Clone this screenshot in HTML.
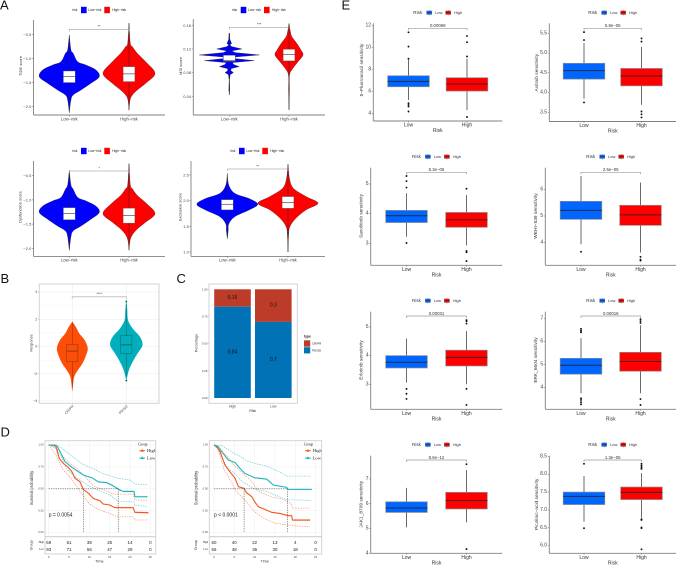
<!DOCTYPE html>
<html lang="en">
<head>
<meta charset="utf-8">
<title>Risk group comparison figure</title>
<style>
html,body{margin:0;padding:0;background:#fff;}
body{width:676px;height:565px;overflow:hidden;}
svg{display:block;font-family:"Liberation Sans",sans-serif;}
</style>
</head>
<body>
<svg id="figure" xmlns="http://www.w3.org/2000/svg" width="676" height="565" viewBox="0 0 676 565">
<rect x="0" y="0" width="676" height="565" fill="#ffffff"/>
<defs><clipPath id="km-clip-one"><rect x="44" y="440" width="112" height="98"/></clipPath></defs>
</svg>
<script>
/* ---------- Panel A data ---------- */
const tideTicks=[-0.5,-1,-1.5,-2];
const tideLowGrid=[-0.515,-0.825,-0.895,-1.07,-1.135,-1.24,-1.38,-1.515,-1.654,-1.757,-1.86,-2.124];
const tideLowDensity=[0,0.055,0.13,0.28,0.55,0.89,1,0.72,0.39,0.13,0.055,0];
const tideLowBox=[-1.5,-1.375,-1.26];
const tideHighGrid=[-0.27,-0.686,-0.757,-0.895,-1.07,-1.31,-1.515,-1.654,-1.757,-1.86,-2.07];
const tideHighDensity=[0,0.05,0.13,0.32,0.64,1,0.64,0.32,0.13,0.04,0];
const tideHighBox=[-1.48,-1.32,-1.17];

const msiTicks=[0.16,0.12,0.08,0.04];
const msiLowGrid=[0.1465,0.1363,0.1313,0.1296,0.1268,0.124,0.12,0.1167,0.1138,0.1099,0.1065,0.1037,0.1003,0.097,0.0936,0.0902,0.0868,0.0834,0.08,0.0767,0.0677,0.0508,0.0423];
const msiLowDensity=[0.01,0.02,0.06,0.08,0.02,0.08,0.42,0.08,0.2,1,0.2,0.2,0.83,0.1,0.15,0.33,0.06,0.05,0.14,0.03,0.006,0.015,0];
const msiLowBox=[0.0992,0.1003,0.1093];
const msiHighGrid=[0.163,0.149,0.1409,0.1296,0.1183,0.1099,0.0986,0.0874,0.0761,0.0508,0.034,0.017];
const msiHighDensity=[0,0.1,0.2,0.55,0.85,1,0.65,0.28,0.04,0.03,0.015,0];
const msiHighBox=[0.0998,0.111,0.1195];

const dysTicks=[-0.5,-1,-1.5,-2];
const dysLowGrid=[-0.39,-0.69,-0.78,-0.95,-1.02,-1.13,-1.26,-1.4,-1.54,-1.64,-1.76,-2.04];
const dysLowDensity=[0,0.055,0.13,0.28,0.55,0.89,1,0.72,0.39,0.13,0.055,0];
const dysLowBox=[-1.41,-1.285,-1.16];
const dysHighGrid=[-0.25,-0.69,-0.77,-0.91,-1.06,-1.28,-1.46,-1.6,-1.72,-1.84,-2.04];
const dysHighDensity=[0,0.05,0.13,0.32,0.64,1,0.64,0.32,0.13,0.04,0];
const dysHighBox=[-1.48,-1.32,-1.17];

const excTicks=[2.5,2,1.5,1];
const excLowGrid=[2.53,2.3,2.14,2.04,1.93,1.82,1.69,1.55,1.42,1.26];
const excLowDensity=[0,0.05,0.25,0.72,1,0.72,0.25,0.05,0.03,0];
const excLowBox=[1.82,1.93,2.02];
const excHighGrid=[2.71,2.43,2.24,2.08,1.95,1.82,1.65,1.49,1.33,1];
const excHighDensity=[0,0.05,0.18,0.6,1,0.6,0.25,0.06,0.02,0];
const excHighBox=[1.85,1.965,2.08];
const excHighOutliers=[2.62,2.58,2.55,2.5,1.42,1.38,1.3];

/* ---------- Panel B data ---------- */
const respTicks=[4,2,0,-2,-4];
const respGroups=["CR/PR","PD/SD"];
const respCrGrid=[1.81,1.44,0.95,0.46,-0.15,-0.76,-1.25,-1.74,-2.2,-2.7,-3.25];
const respCrDensity=[0,0.22,0.45,0.8,1,0.85,0.65,0.35,0.12,0.05,0];
const respCrBox=[-1.1,-0.34,0.15];
const respPdGrid=[3.4,2.66,1.93,1.3,0.7,0.1,-0.5,-1.1,-1.74,-2.47];
const respPdDensity=[0,0.05,0.1,0.4,0.85,1,0.7,0.4,0.15,0];
const respPdBox=[-0.5,0.12,0.8];
const respPdOutliers=[3.3,-2.5];

/* ---------- Panel C data ---------- */
const pctTicks=[1,0.75,0.5,0.25,0];
const pctCategories=["High","Low"];
const pctCrPr=[0.16,0.3];
const pctPdSd=[0.84,0.7];

/* ---------- Panel D data ---------- */
const kmTicksY=[1,0.75,0.5,0.25,0];
const kmTicksX=[0,5,10,15,20,25];

const km1HighTime=[0,1.6,2,2.6,3.6,4.8,5.7,6.5,7.7,8.5,9.8,11,12.6,13.4,15,16.3,20.8,21.2,24.5];
const km1HighSurv=[1,1,0.943,0.848,0.79,0.745,0.696,0.62,0.58,0.494,0.449,0.39,0.365,0.327,0.316,0.285,0.285,0.232,0.228];
const km1LowTime=[0,2,2.8,4,5.7,7.3,8.5,10.6,12.2,14.3,15.5,17.5,18.4,21,21.2,24.3];
const km1LowSurv=[1,0.99,0.924,0.81,0.745,0.696,0.658,0.627,0.58,0.57,0.544,0.487,0.47,0.47,0.41,0.41];
const km1HighUpperTime=[0,2,3.5,5,7,9,11,13,16,20.8,21.2,24.5];
const km1HighUpper=[1,0.97,0.87,0.8,0.73,0.64,0.53,0.5,0.44,0.44,0.373,0.37];
const km1HighLowerTime=[0,2,3.5,5.5,7,8.5,10,12,15,17,20.8,21.2,24.5];
const km1HighLower=[1,0.87,0.72,0.62,0.52,0.42,0.33,0.27,0.22,0.18,0.18,0.145,0.145];
const km1LowUpperTime=[0,2,3,5,8,11,13,17,20,21.2,24.3];
const km1LowUpper=[1,1,0.97,0.9,0.79,0.73,0.68,0.62,0.6,0.555,0.55];
const km1LowLowerTime=[0,2,3,4.5,7,10,13,15,17,21,21.2,24.3];
const km1LowLower=[1,0.95,0.87,0.72,0.62,0.53,0.47,0.43,0.36,0.35,0.31,0.3];
const km1Medians=[8.6,17.1];
const km1HighCensor=[17,18,19,20,21.6,22,22.5,23,23.5,24,24.5];
const km1LowCensor=[17.6,18.6,19,19.5,20,20.5,21.5,22,22.5,23,23.5,24];
const km1HighRisk=[69,61,38,25,14,0];
const km1LowRisk=[93,71,56,47,29,0];

const km2HighTime=[0,0.65,1.5,2.7,3.9,5.2,6,7.4,8,9.3,10,10.9,12.5,14.2,16.2,18.3,19.1,19.3,23.6];
const km2HighSurv=[1,0.98,0.924,0.77,0.696,0.62,0.525,0.506,0.456,0.41,0.354,0.297,0.266,0.232,0.22,0.194,0.194,0.144,0.144];
const km2LowTime=[0,1.07,1.9,3.5,5.2,6.4,7.6,10,13,14.6,17.9,18.1,24];
const km2LowSurv=[1,0.98,0.924,0.83,0.8,0.734,0.677,0.627,0.61,0.544,0.517,0.494,0.494];
const km2HighUpperTime=[0,1.5,3,5,7,9,11,14,17,19,19.3,23.6];
const km2HighUpper=[1,0.96,0.88,0.77,0.68,0.6,0.47,0.41,0.38,0.33,0.28,0.28];
const km2HighLowerTime=[0,1,2.5,4,5.5,7.5,10,12,15,19,23.6];
const km2HighLower=[1,0.95,0.72,0.6,0.47,0.38,0.24,0.17,0.11,0.08,0.07];
const km2LowUpperTime=[0,2,3.5,5,6.5,8,10,13,15,17,18,24];
const km2LowUpper=[1,0.99,0.95,0.9,0.87,0.82,0.79,0.76,0.72,0.67,0.645,0.645];
const km2LowLowerTime=[0,1,2,3.5,5,7,10,13,15,18,24];
const km2LowLower=[1,0.96,0.85,0.73,0.68,0.58,0.5,0.47,0.43,0.375,0.37];
const km2Medians=[7.4,18.1];
const km2HighCensor=[20,20.6,21.2,21.8,22.4,23,23.6];
const km2LowCensor=[18.4,18.9,19.4,19.9,20.4,20.9,21.4,21.9,22.4,22.9,23.4,24];
const km2HighRisk=[60,40,22,13,4,0];
const km2LowRisk=[56,48,36,30,18,0];

/* ---------- Panel E data ---------- */
const fuTicks=[12,10,8,6,4];
const fuLowBox=[6.45,6.94,7.45];
const fuLowWhisker=[5.25,8.9];
const fuLowOutliers=[11.4,10.1,9,4.95,4.8,4.65,4.2];
const fuHighBox=[6.06,6.7,7.27];
const fuHighWhisker=[4.33,9];
const fuHighOutliers=[11.06,10.5,9.2,3.7];

const axiTicks=[5.5,5,4.5,4,3.5];
const axiLowBox=[4.34,4.555,4.74];
const axiLowWhisker=[3.85,5.25];
const axiLowOutliers=[5.53,5.33,3.75];
const axiHighBox=[4.17,4.42,4.61];
const axiHighWhisker=[3.69,5.16];
const axiHighOutliers=[5.37,5.29,3.52,3.45,3.37];

const savTicks=[5,4,3];
const savLowBox=[3.7,3.93,4.11];
const savLowWhisker=[3.22,4.69];
const savLowOutliers=[5.27,5.1,4.88,3.01];
const savHighBox=[3.54,3.79,4.04];
const savHighWhisker=[2.93,4.63];
const savHighOutliers=[4.84,2.74,2.7,2.4];

const wehiTicks=[6,5,4];
const wehiLowBox=[4.875,5.21,5.55];
const wehiLowWhisker=[3.94,6.5];
const wehiLowOutliers=[3.66];
const wehiHighBox=[4.65,5.04,5.4];
const wehiHighWhisker=[3.63,6.25];
const wehiHighOutliers=[3.47,3.37,3.33];

const erlTicks=[5,4,3];
const erlLowBox=[3.57,3.77,4];
const erlLowWhisker=[3.06,4.6];
const erlLowOutliers=[2.84,2.67,2.49];
const erlHighBox=[3.64,3.94,4.19];
const erlHighWhisker=[3,4.86];
const erlHighOutliers=[5.24,5.2,5.12,2.84,2.28];

const erkTicks=[7,6,5,4];
const erkLowBox=[4.57,4.96,5.26];
const erkLowWhisker=[3.74,6.13];
const erkLowOutliers=[6.54,6.46,6.39,3.52,3.45,3.35,3.26];
const erkHighBox=[4.7,5.12,5.52];
const erkHighWhisker=[3.74,6.7];
const erkHighOutliers=[6.96,6.88,6.8,3.49,3.23];

const jakTicks=[7,6,5,4];
const jakLowBox=[5.65,5.83,6.08];
const jakLowWhisker=[5.05,6.64];
const jakLowOutliers=[];
const jakHighBox=[5.79,6.13,6.46];
const jakHighWhisker=[5.25,7.36];
const jakHighOutliers=[7.6,4.17];

const picTicks=[8.5,8,7.5,7,6.5,6];
const picLowBox=[7.15,7.38,7.5];
const picLowWhisker=[6.67,7.95];
const picLowOutliers=[8.29,6.49];
const picHighBox=[7.29,7.49,7.64];
const picHighWhisker=[6.78,8.03];
const picHighOutliers=[8.29,8.24,8.19,8.15,6.74,6.72,6.51,6.49,5.9];

/* ---------- Helpers ---------- */
const NS='http://www.w3.org/2000/svg';
const root=document.getElementById('figure');
function mk(parent,tag,attrs,name){
  const el=document.createElementNS(NS,tag);
  for(const k in attrs){el.setAttribute(k,attrs[k]);}
  
  
  parent.appendChild(el);
  return el;
}
function group(parent,name){return mk(parent,'g',{},name);}
function txt(parent,str,x,y,size,name,o){
  o=o||{};
  const a={x:x,y:y,'font-size':size,'text-anchor':o.anchor||'middle','dominant-baseline':'central',fill:o.fill||'#222'};
  if(o.family){a['font-family']=o.family;}
  if(o.weight){a['font-weight']=o.weight;}
  if(o.rotate){a.transform='rotate('+o.rotate+' '+x+' '+y+')';}
  const el=mk(parent,'text',a,name);
  el.textContent=str;
  return el;
}
function line(parent,x1,y1,x2,y2,stroke,w,name,dash){
  const a={x1:x1,y1:y1,x2:x2,y2:y2,stroke:stroke,'stroke-width':w};
  if(dash){a['stroke-dasharray']=dash;}
  return mk(parent,'line',a,name);
}
function linear(d,r){const m=(r[1]-r[0])/(d[1]-d[0]);return function(v){return r[0]+(v-d[0])*m;};}
function fmt(v,dec){const s=Number(v).toFixed(dec);return s.replace('-','\u2212');}
function smoothPath(p){
  let s='M'+p[0][0].toFixed(2)+' '+p[0][1].toFixed(2);
  for(let i=0;i<p.length-1;i++){
    const a=p[Math.max(i-1,0)],b=p[i],c=p[i+1],d=p[Math.min(i+2,p.length-1)];
    s+=' C'+(b[0]+(c[0]-a[0])/6).toFixed(2)+' '+(b[1]+(c[1]-a[1])/6).toFixed(2)+' '+(c[0]-(d[0]-b[0])/6).toFixed(2)+' '+(c[1]-(d[1]-b[1])/6).toFixed(2)+' '+c[0].toFixed(2)+' '+c[1].toFixed(2);
  }
  return s;
}
function straightPath(p){return 'M'+p.map(function(q){return q[0].toFixed(2)+' '+q[1].toFixed(2);}).join(' L');}
function violin(parent,grid,density,cx,hw,sy,fill,stroke,smooth,name){
  const left=grid.map(function(v,i){return [cx-density[i]*hw,sy(v)];});
  const right=grid.map(function(v,i){return [cx+density[i]*hw,sy(v)];});
  const build=smooth?smoothPath:straightPath;
  const d=build(left)+' L'+build(right.reverse()).slice(1)+' Z';
  return mk(parent,'path',{d:d,fill:fill,stroke:stroke,'stroke-width':0.35},name);
}
function bracket(parent,x1,x2,y,label,stroke,w,size,name){
  const g=group(parent,name);
  mk(g,'path',{d:'M'+x1+' '+(y+2)+' V'+y+' H'+x2+' V'+(y+2),fill:'none',stroke:stroke,'stroke-width':w},'significance-bracket');
  txt(g,label,(x1+x2)/2,y-2.6,size,'significance-label',{fill:'#333'});
}
function classicAxes(g,c,sy,ticks,dec,tickSize){
  line(g,c.axisX,c.top,c.axisX,c.bottom,'#808080',0.9,'y-axis-line');
  line(g,c.axisX,c.bottom,c.right,c.bottom,'#808080',0.9,'x-axis-line');
  ticks.forEach(function(t){
    line(g,c.axisX-1.5,sy(t),c.axisX,sy(t),'#666',0.5,'y-tick');
    txt(g,fmt(t,dec),c.axisX-2.2,sy(t),tickSize,'y-tick-label',{anchor:'end',fill:'#444'});
  });
}

/* ---------- Violin panels (A) ---------- */
function riskLegend(parent,x,y){
  const g=group(parent,'risk-legend');
  txt(g,'risk',x,y,3.3,'legend-title',{anchor:'start'});
  mk(g,'rect',{x:x+8.7,y:y-3.2,width:5.6,height:6.4,fill:'#0000ff'},'legend-swatch-low-risk');
  txt(g,'Low\u2212risk',x+16,y,3.3,'legend-label-low-risk',{anchor:'start'});
  mk(g,'rect',{x:x+32,y:y-3.2,width:5.6,height:6.4,fill:'#ff0000'},'legend-swatch-high-risk');
  txt(g,'High\u2212risk',x+40,y,3.3,'legend-label-high-risk',{anchor:'start'});
}
function violinPanel(c){
  const g=group(root,c.name);
  const sy=linear(c.domain,c.range);
  riskLegend(g,c.legendX,c.legendY);
  classicAxes(g,c,sy,c.ticks,c.dec,4);
  txt(g,c.title,c.titleX,c.titleY,4,'y-axis-title',{rotate:-90,fill:'#333'});
  c.series.forEach(function(s,i){
    const cx=c.cx[i];
    const sg=group(g,'violin-'+s.key);
    violin(sg,s.grid,s.density,cx,s.hw,sy,s.fill,'#222',!c.spiky||i===1,'violin-body');
    line(sg,cx,sy(s.grid[0]),cx,sy(s.grid[s.grid.length-1]),'#222',0.45,'violin-whisker');
    (s.outliers||[]).forEach(function(v){mk(sg,'circle',{cx:cx,cy:sy(v),r:0.6,fill:'#222'},'outlier-point');});
    const bh=5.9;
    mk(sg,'rect',{x:cx-bh,y:sy(s.box[2]),width:bh*2,height:sy(s.box[0])-sy(s.box[2]),fill:'#fff',stroke:'#555','stroke-width':0.4},'box');
    line(sg,cx-bh,sy(s.box[1]),cx+bh,sy(s.box[1]),'#333',0.6,'box-median');
    txt(sg,s.label,cx,c.bottom+3.8,4.2,'x-tick-label',{fill:'#444'});
    line(sg,cx,c.bottom,cx,c.bottom+1.5,'#666',0.5,'x-tick');
  });
  bracket(g,c.cx[0],c.cx[1],c.bracketY,c.stars,'#8a8a8a',0.5,3.6,'comparison-bracket');
}
violinPanel({name:'tide-score-violin',domain:[-0.5,-2],range:[34.3,106.7],axisX:33.5,top:20,bottom:115,right:165,cx:[69.3,129],ticks:tideTicks,dec:1,title:'TIDE score',titleX:20.6,titleY:66,legendX:72.3,legendY:10,bracketY:29.3,stars:'**',
 series:[{key:'low-risk',label:'Low\u2212risk',grid:tideLowGrid,density:tideLowDensity,box:tideLowBox,hw:30,fill:'#0000ff'},{key:'high-risk',label:'High\u2212risk',grid:tideHighGrid,density:tideHighDensity,box:tideHighBox,hw:26,fill:'#ff0000'}]});
violinPanel({name:'msi-score-violin',domain:[0.16,0.04],range:[25.3,96.3],axisX:193.3,top:19,bottom:115,right:325,cx:[229.3,289],ticks:msiTicks,dec:2,title:'MSI score',titleX:180.5,titleY:66,legendX:232,legendY:10,bracketY:27.3,stars:'***',spiky:true,
 series:[{key:'low-risk',label:'Low\u2212risk',grid:msiLowGrid,density:msiLowDensity,box:msiLowBox,hw:30,fill:'#0000ff'},{key:'high-risk',label:'High\u2212risk',grid:msiHighGrid,density:msiHighDensity,box:msiHighBox,hw:14,fill:'#ff0000'}]});
violinPanel({name:'dysfunction-score-violin',domain:[-0.5,-2],range:[175.7,248.3],axisX:33.5,top:161,bottom:256.4,right:165,cx:[69.3,129],ticks:dysTicks,dec:1,title:'Dysfunction score',titleX:20,titleY:207,legendX:72.3,legendY:151,bracketY:171,stars:'*',
 series:[{key:'low-risk',label:'Low\u2212risk',grid:dysLowGrid,density:dysLowDensity,box:dysLowBox,hw:30,fill:'#0000ff'},{key:'high-risk',label:'High\u2212risk',grid:dysHighGrid,density:dysHighDensity,box:dysHighBox,hw:26,fill:'#ff0000'}]});
violinPanel({name:'exclusion-score-violin',domain:[2.5,1],range:[175,252],axisX:191,top:161,bottom:256.4,right:325,cx:[227.3,288],ticks:excTicks,dec:1,title:'Exclusion score',titleX:180,titleY:207,legendX:230.3,legendY:151,bracketY:169,stars:'**',
 series:[{key:'low-risk',label:'Low\u2212risk',grid:excLowGrid,density:excLowDensity,box:excLowBox,hw:30.5,fill:'#0000ff'},{key:'high-risk',label:'High\u2212risk',grid:excHighGrid,density:excHighDensity,box:excHighBox,hw:30,fill:'#ff0000',outliers:excHighOutliers}]});

/* ---------- Panel B ---------- */
(function(){
  const g=group(root,'response-violin');
  const sy=linear([4,-4],[292,401]);
  const cx=[72.3,126.3];
  const L=39.3,R=159,T=284,B=403.3;
  [3,1,-1,-3].forEach(function(t){line(g,L,sy(t),R,sy(t),'#f3f3f3',0.4,'minor-gridline');});
  respTicks.forEach(function(t){
    line(g,L,sy(t),R,sy(t),'#ebebeb',0.5,'major-gridline');
    txt(g,fmt(t,0),37.3,sy(t),3.6,'y-tick-label',{anchor:'end',fill:'#444'});
    line(g,38,sy(t),L,sy(t),'#888',0.4,'y-tick');
  });
  cx.forEach(function(x){line(g,x,T,x,B,'#ebebeb',0.5,'vertical-gridline');});
  const sets=[{k:'cr-pr',grid:respCrGrid,dens:respCrDensity,box:respCrBox,fill:'#fc4e07',w:[-3,1.8],dark:'#7a3a1c',out:[]},
              {k:'pd-sd',grid:respPdGrid,dens:respPdDensity,box:respPdBox,fill:'#00afbb',w:[-2.2,3.1],dark:'#0d5f66',out:respPdOutliers}];
  sets.forEach(function(s,i){
    const sg=group(g,'violin-'+s.k);
    violin(sg,s.grid,s.dens,cx[i],s.k==='cr-pr'?15.3:16,sy,s.fill,s.fill,true,'violin-body');
    line(sg,cx[i],sy(s.w[1]),cx[i],sy(s.box[2]),s.dark,0.5,'upper-whisker');
    line(sg,cx[i],sy(s.box[0]),cx[i],sy(s.w[0]),s.dark,0.5,'lower-whisker');
    mk(sg,'rect',{x:cx[i]-5.6,y:sy(s.box[2]),width:11.2,height:sy(s.box[0])-sy(s.box[2]),fill:'none',stroke:s.dark,'stroke-width':0.5},'box');
    line(sg,cx[i]-5.6,sy(s.box[1]),cx[i]+5.6,sy(s.box[1]),s.dark,0.8,'box-median');
    s.out.forEach(function(v){mk(sg,'circle',{cx:cx[i],cy:sy(v),r:0.9,fill:s.dark},'outlier-point');});
    txt(sg,respGroups[i],cx[i]+1,406,3.6,'x-tick-label',{anchor:'end',rotate:-45,fill:'#444'});
    line(sg,cx[i],B,cx[i],B+1.2,'#888',0.4,'x-tick');
  });
  mk(g,'rect',{x:L,y:T,width:R-L,height:B-T,fill:'none',stroke:'#cfcfcf','stroke-width':0.9},'panel-border');
  mk(g,'path',{d:'M'+cx[0]+' 298.5 V296.7 H'+cx[1]+' V298.5',fill:'none',stroke:'#c4c4c4','stroke-width':1},'significance-bracket');
  txt(g,'****',(cx[0]+cx[1])/2,294,3.6,'significance-label',{fill:'#444'});
  txt(g,'Response',31,343,3.9,'y-axis-title',{rotate:-90,fill:'#333'});
})();

/* ---------- Panel C ---------- */
(function(){
  const g=group(root,'response-percentage-stacked-bars');
  const sy=linear([1,0],[289.3,398]);
  const L=209,R=297.3,T=284,B=403.3;
  const cx=[232.5,273.3];
  const hw=18.3;
  pctCategories.forEach(function(cat,i){
    const sg=group(g,'stacked-bar-'+cat.toLowerCase());
    const split=pctPdSd[i];
    mk(sg,'rect',{x:cx[i]-hw,y:sy(split+pctCrPr[i]),width:hw*2,height:sy(split)-sy(split+pctCrPr[i]),fill:'#bc3c29'},'bar-segment-cr-pr');
    mk(sg,'rect',{x:cx[i]-hw,y:sy(split),width:hw*2,height:sy(0)-sy(split),fill:'#0072b5'},'bar-segment-pd-sd');
    txt(sg,String(pctCrPr[i]),cx[i],sy(split+pctCrPr[i]/2),5,'value-label-cr-pr',{fill:'#111'});
    txt(sg,String(pctPdSd[i]),cx[i],sy(split/2),5,'value-label-pd-sd',{fill:'#111'});
    txt(sg,cat,cx[i],406.5,3.4,'x-tick-label',{fill:'#444'});
    line(sg,cx[i],B,cx[i],B+1,'#888',0.4,'x-tick');
  });
  pctTicks.forEach(function(t){
    txt(g,t.toFixed(2),207.5,sy(t),2.9,'y-tick-label',{anchor:'end',fill:'#444'});
    line(g,208,sy(t),L,sy(t),'#888',0.4,'y-tick');
  });
  mk(g,'rect',{x:L,y:T,width:R-L,height:B-T,fill:'none',stroke:'#cfcfcf','stroke-width':0.9},'panel-border');
  txt(g,'Percentage',196.7,343,3.6,'y-axis-title',{rotate:-90,fill:'#333'});
  txt(g,'Risk',252.7,411,3.6,'x-axis-title',{fill:'#333'});
  const lg=group(g,'type-legend');
  txt(lg,'type',304,336.4,3.4,'legend-title',{anchor:'start',weight:'bold'});
  mk(lg,'rect',{x:304,y:340.3,width:6.2,height:6.4,fill:'#bc3c29'},'legend-swatch-cr-pr');
  mk(lg,'rect',{x:304,y:347.2,width:6.2,height:6.2,fill:'#0072b5'},'legend-swatch-pd-sd');
  txt(lg,'CR/PR',312,343.7,3,'legend-label-cr-pr',{anchor:'start'});
  txt(lg,'PD/SD',312,350.3,3,'legend-label-pd-sd',{anchor:'start'});
})();

/* ---------- Panel D ---------- */
function curvePath(g,sx,sy,times,vals,stroke,w,dash,name){
  const a={d:straightPath(times.map(function(t,i){return [sx(t),sy(vals[i])];})),fill:'none',stroke:stroke,'stroke-width':w};
  if(dash){a['stroke-dasharray']=dash;}
  return mk(g,'path',a,name);
}
function survivalAt(times,vals,t){
  for(let i=times.length-1;i>=0;i--){if(t>=times[i]){
    if(i===times.length-1){return vals[i];}
    return vals[i]+(vals[i+1]-vals[i])*(t-times[i])/(times[i+1]-times[i]);
  }}
  return vals[0];
}
function kmPanel(c){
  const g=group(root,c.name);
  const sx=linear([0,25],[c.x0,c.x0+101.6]);
  const sy=linear([1,0],[445,532.7]);
  const L=c.L,R=c.R,T=440.7,B=536.7,TB=554;
  const HIGH='#f4541c',LOW='#1cb3bd';
  const plot=group(g,'survival-plot');
  if(c.clip){plot.setAttribute('clip-path','url(#km-clip-one)');}
  kmTicksY.forEach(function(t){line(plot,L,sy(t),R,sy(t),'#eeeeee',0.5,'horizontal-gridline');});
  kmTicksX.forEach(function(t){if(sx(t)<R){line(plot,sx(t),T,sx(t),B,'#eeeeee',0.5,'vertical-gridline');}});
  curvePath(plot,sx,sy,c.hiUT,c.hiU,HIGH,0.55,'1.5 1','high-upper-confidence-line').setAttribute('opacity',0.75);
  curvePath(plot,sx,sy,c.hiLT,c.hiL,HIGH,0.55,'1.5 1','high-lower-confidence-line').setAttribute('opacity',0.75);
  curvePath(plot,sx,sy,c.loUT,c.loU,LOW,0.55,'1.5 1','low-upper-confidence-line').setAttribute('opacity',0.8);
  curvePath(plot,sx,sy,c.loLT,c.loL,LOW,0.55,'1.5 1','low-lower-confidence-line').setAttribute('opacity',0.8);
  curvePath(plot,sx,sy,c.hiT,c.hiS,HIGH,1.1,null,'high-survival-curve');
  curvePath(plot,sx,sy,c.loT,c.loS,LOW,1.1,null,'low-survival-curve');
  c.hiC.forEach(function(t){const y=sy(survivalAt(c.hiT,c.hiS,t));line(plot,sx(t),y-0.9,sx(t),y+0.9,HIGH,0.4,'high-censor-mark');});
  c.loC.forEach(function(t){const y=sy(survivalAt(c.loT,c.loS,t));line(plot,sx(t),y-0.9,sx(t),y+0.9,LOW,0.4,'low-censor-mark');});
  line(plot,sx(0),sy(0.5),sx(c.med[1]),sy(0.5),'#333',0.5,'median-reference-line','1.3 1');
  c.med.forEach(function(t){line(plot,sx(t),sy(0.5),sx(t),sy(0),'#333',0.5,'median-drop-line','1.3 1');});
  txt(plot,c.pText,sx(0),515.3,5,'p-value-label',{anchor:'start',fill:'#222'});
  const lg=group(plot,'group-legend');
  const serif='"Liberation Serif",serif';
  txt(lg,'Group',c.legendX,444.3,3.6,'legend-title',{anchor:'start',family:serif});
  line(lg,c.legendX+1,450.7,c.legendX+6.8,450.7,HIGH,0.9,'legend-key-high');
  mk(lg,'path',{d:'M'+(c.legendX+3.9)+' 448.9 l1.6 2.8 h-3.2 Z',fill:HIGH},'legend-marker-high');
  txt(lg,'High',c.legendX+8.6,450.7,4.6,'legend-label-high',{anchor:'start',family:serif});
  line(lg,c.legendX+1,458,c.legendX+6.8,458,LOW,0.9,'legend-key-low');
  mk(lg,'path',{d:'M'+(c.legendX+3.9)+' 456.2 l1.6 2.8 h-3.2 Z',fill:LOW},'legend-marker-low');
  txt(lg,'Low',c.legendX+8.6,458,4.6,'legend-label-low',{anchor:'start',family:serif});
  mk(g,'rect',{x:L,y:T,width:R-L,height:B-T,fill:'none',stroke:'#cfcfcf','stroke-width':0.9},'survival-panel-border');
  kmTicksY.forEach(function(t){
    txt(g,t.toFixed(2),L-1.4,sy(t),2.7,'y-tick-label',{anchor:'end',fill:'#444'});
  });
  txt(g,'Survival probability',c.titleX,488,4.1,'y-axis-title',{rotate:-90,fill:'#333'});
  const tb=group(g,'risk-table');
  mk(tb,'rect',{x:L,y:B,width:R-L,height:TB-B,fill:'none',stroke:'#cfcfcf','stroke-width':0.9},'risk-table-border');
  kmTicksX.forEach(function(t,i){
    txt(tb,String(c.hiR[i]),sx(t),542.7,4.4,'at-risk-high',{fill:'#222'});
    txt(tb,String(c.loR[i]),sx(t),549.3,4.4,'at-risk-low',{fill:'#222'});
    txt(tb,String(t),sx(t),557,2.8,'x-tick-label',{fill:'#444'});
  });
  txt(tb,'High',L-1.2,542.7,2.6,'risk-row-label-high',{anchor:'end',family:serif});
  txt(tb,'Low',L-1.2,549.3,2.6,'risk-row-label-low',{anchor:'end',family:serif});
  txt(tb,'Group',c.titleX,545.3,3.6,'risk-table-y-title',{rotate:-90,fill:'#333'});
  txt(tb,'Time',(c.x0+c.x0+101.6)/2,561.7,3.8,'x-axis-title',{fill:'#333'});
}
kmPanel({name:'survival-plot-one',x0:48.7,L:45,R:155.7,titleX:31.7,legendX:138.3,clip:true,pText:'p = 0.0054',
 hiT:km1HighTime,hiS:km1HighSurv,loT:km1LowTime,loS:km1LowSurv,hiUT:km1HighUpperTime,hiU:km1HighUpper,hiLT:km1HighLowerTime,hiL:km1HighLower,loUT:km1LowUpperTime,loU:km1LowUpper,loLT:km1LowLowerTime,loL:km1LowLower,med:km1Medians,hiC:km1HighCensor,loC:km1LowCensor,hiR:km1HighRisk,loR:km1LowRisk});
kmPanel({name:'survival-plot-two',x0:214,L:209.3,R:321.7,titleX:196,legendX:304,pText:'p < 0.0001',
 hiT:km2HighTime,hiS:km2HighSurv,loT:km2LowTime,loS:km2LowSurv,hiUT:km2HighUpperTime,hiU:km2HighUpper,hiLT:km2HighLowerTime,hiL:km2HighLower,loUT:km2LowUpperTime,loU:km2LowUpper,loLT:km2LowLowerTime,loL:km2LowLower,med:km2Medians,hiC:km2HighCensor,loC:km2LowCensor,hiR:km2HighRisk,loR:km2LowRisk});

/* ---------- Panel E ---------- */
const BOX_FILL=['#0066ff','#ff0000'];
const BOX_GROUPS=['Low','High'];
function boxLegend(parent,x,y){
  const g=group(parent,'risk-legend');
  txt(g,'Risk',x,y,4.6,'legend-title',{anchor:'start',fill:'#333'});
  [0,1].forEach(function(i){
    const sx=x+(i===0?13.3:32.3);
    const key=group(g,'legend-key-'+BOX_GROUPS[i].toLowerCase());
    line(key,sx+2.6,y-2.8,sx+2.6,y+2.8,'#666',0.4,'legend-key-whisker');
    mk(key,'rect',{x:sx,y:y-1.8,width:5.2,height:3.6,fill:BOX_FILL[i],stroke:'#777','stroke-width':0.4},'legend-key-box');
    line(key,sx,y,sx+5.2,y,'#222',0.5,'legend-key-median');
    txt(g,BOX_GROUPS[i],x+(i===0?21.7:40.7),y,4,'legend-label-'+BOX_GROUPS[i].toLowerCase(),{anchor:'start',fill:'#333'});
  });
}
function boxPanel(c){
  const g=group(root,c.name);
  const sy=linear(c.domain,c.range);
  boxLegend(g,c.legendX,c.legendY);
  classicAxes(g,c,sy,c.ticks,c.dec,5);
  txt(g,c.title,c.titleX,c.titleY,4.8,'y-axis-title',{rotate:-90,fill:'#333'});
  c.series.forEach(function(s,i){
    const cx=c.cx[i];
    const sg=group(g,'boxplot-'+BOX_GROUPS[i].toLowerCase());
    line(sg,cx,sy(s.whisker[1]),cx,sy(s.whisker[0]),'#6a6a6a',1,'whisker');
    mk(sg,'rect',{x:cx-20.8,y:sy(s.box[2]),width:41.6,height:sy(s.box[0])-sy(s.box[2]),fill:BOX_FILL[i],stroke:'#8c8c8c','stroke-width':0.7},'box');
    line(sg,cx-20.8,sy(s.box[1]),cx+20.8,sy(s.box[1]),'#222',1,'box-median').setAttribute('opacity',0.85);
    s.outliers.forEach(function(v){mk(sg,'circle',{cx:cx,cy:sy(v),r:0.95,fill:'#111'},'outlier-point');});
    line(sg,cx,c.bottom,cx,c.bottom+1.4,'#666',0.5,'x-tick');
    txt(sg,BOX_GROUPS[i],cx,c.bottom+4.6,5,'x-tick-label',{fill:'#333'});
  });
  txt(g,'Risk',(c.cx[0]+c.cx[1])/2,c.bottom+10.2,5,'x-axis-title',{fill:'#333'});
  bracket(g,c.cx[0],c.cx[1],c.bracketY,c.pLabel,'#9a9a9a',0.7,4.3,'comparison-bracket');
}
boxPanel({name:'fluorouracil-boxplot',domain:[12,4],range:[25.7,113.7],axisX:373.3,top:23.3,bottom:121,right:502.3,cx:[408.5,467],ticks:fuTicks,dec:0,title:'5\u2212Fluorouracil sensitivity',titleX:362.7,titleY:70,legendX:413.3,legendY:12.7,bracketY:28.3,pLabel:'0.00069',
 series:[{box:fuLowBox,whisker:fuLowWhisker,outliers:fuLowOutliers},{box:fuHighBox,whisker:fuHighWhisker,outliers:fuHighOutliers}]});
boxPanel({name:'axitinib-boxplot',domain:[5.5,3.5],range:[33.3,112.3],axisX:549.3,top:23.3,bottom:121.5,right:676,cx:[584,641.5],ticks:axiTicks,dec:1,title:'Axitinib sensitivity',titleX:537.3,titleY:72.7,legendX:588.3,legendY:12.7,bracketY:28.3,pLabel:'5.8e\u221206',
 series:[{box:axiLowBox,whisker:axiLowWhisker,outliers:axiLowOutliers},{box:axiHighBox,whisker:axiHighWhisker,outliers:axiHighOutliers}]});
boxPanel({name:'savolitinib-boxplot',domain:[5,3],range:[184,243.3],axisX:370.7,top:167.7,bottom:265.3,right:502.3,cx:[406.5,466.5],ticks:savTicks,dec:0,title:'Savolitinib sensitivity',titleX:362,titleY:216,legendX:412,legendY:156.7,bracketY:172.3,pLabel:'5.3e\u221205',
 series:[{box:savLowBox,whisker:savLowWhisker,outliers:savLowOutliers},{box:savHighBox,whisker:savHighWhisker,outliers:savHighOutliers}]});
boxPanel({name:'wehi-539-boxplot',domain:[6,4],range:[189.3,242.7],axisX:545.3,top:167.7,bottom:265.3,right:676,cx:[581,640.5],ticks:wehiTicks,dec:0,title:'WEHI\u2212539 sensitivity',titleX:536.7,titleY:216,legendX:586.3,legendY:156.7,bracketY:172.3,pLabel:'2.5e\u221205',
 series:[{box:wehiLowBox,whisker:wehiLowWhisker,outliers:wehiLowOutliers},{box:wehiHighBox,whisker:wehiHighWhisker,outliers:wehiHighOutliers}]});
boxPanel({name:'erlotinib-boxplot',domain:[5,3],range:[327,384.3],axisX:370.7,top:311.7,bottom:409.3,right:502.3,cx:[406.5,466.5],ticks:erlTicks,dec:0,title:'Erlotinib sensitivity',titleX:362,titleY:360,legendX:412,legendY:300.7,bracketY:316,pLabel:'0.00031',
 series:[{box:erlLowBox,whisker:erlLowWhisker,outliers:erlLowOutliers},{box:erlHighBox,whisker:erlHighWhisker,outliers:erlHighOutliers}]});
boxPanel({name:'erk-6604-boxplot',domain:[7,4],range:[318.3,387.3],axisX:545.3,top:311.7,bottom:409.3,right:676,cx:[581,640.5],ticks:erkTicks,dec:0,title:'ERK_6604 sensitivity',titleX:536.7,titleY:360,legendX:586.3,legendY:300.7,bracketY:316,pLabel:'0.00016',
 series:[{box:erkLowBox,whisker:erkLowWhisker,outliers:erkLowOutliers},{box:erkHighBox,whisker:erkHighWhisker,outliers:erkHighOutliers}]});
boxPanel({name:'jak1-8709-boxplot',domain:[7,4],range:[479,553.3],axisX:370.7,top:455.7,bottom:553.3,right:502.3,cx:[406.5,466.5],ticks:jakTicks,dec:0,title:'JAK1_8709 sensitivity',titleX:362,titleY:504.3,legendX:412,legendY:444.7,bracketY:460,pLabel:'8.6e\u221212',
 series:[{box:jakLowBox,whisker:jakLowWhisker,outliers:jakLowOutliers},{box:jakHighBox,whisker:jakHighWhisker,outliers:jakHighOutliers}]});
boxPanel({name:'picolinic-acid-boxplot',domain:[8.5,6],range:[456.3,545.7],axisX:549.3,top:455.7,bottom:553.3,right:676,cx:[584,641.5],ticks:picTicks,dec:1,title:'Picolinic\u2212acid sensitivity',titleX:537.3,titleY:504.3,legendX:588.3,legendY:444.7,bracketY:460,pLabel:'1.3e\u221206',
 series:[{box:picLowBox,whisker:picLowWhisker,outliers:picLowOutliers},{box:picHighBox,whisker:picHighWhisker,outliers:picHighOutliers}]});

/* ---------- Panel letters ---------- */
txt(root,'A',0,5,13,'panel-letter-a',{anchor:'start',fill:'#111'});
txt(root,'E',341.5,5,13,'panel-letter-e',{anchor:'start',fill:'#111'});
txt(root,'B',0.5,278.5,13,'panel-letter-b',{anchor:'start',fill:'#111'});
txt(root,'C',176.5,278.5,13,'panel-letter-c',{anchor:'start',fill:'#111'});
txt(root,'D',0.5,432,13,'panel-letter-d',{anchor:'start',fill:'#111'});
</script>
</body>
</html>
